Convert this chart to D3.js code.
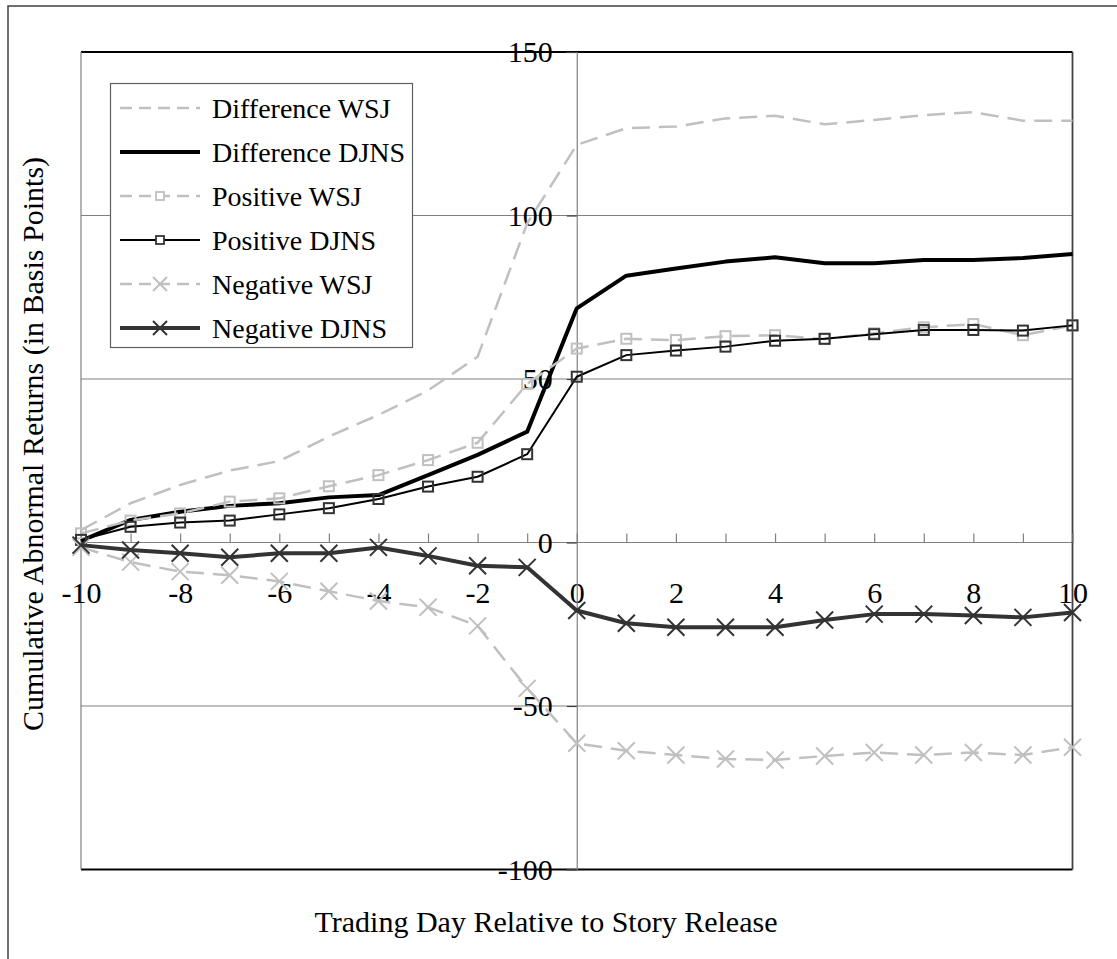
<!DOCTYPE html>
<html>
<head>
<meta charset="utf-8">
<script src="https://cdn.jsdelivr.net/npm/d3@7"></script>
<style>
	body { margin: 0; background: #fff; }
	svg text { font-family: "Liberation Serif", "Times New Roman", serif; fill: #000; }
</style>
</head>
<body>
<div id="chart"></div>
<script>
// trading days relative to story release
const days = [-10, -9, -8, -7, -6, -5, -4, -3, -2, -1, 0, 1, 2, 3, 4, 5, 6, 7, 8, 9, 10];
const xTickLabels = [-10, -8, -6, -4, -2, 0, 2, 4, 6, 8, 10];
const yTickLabels = [-100, -50, 0, 50, 100, 150];

// cumulative abnormal returns, basis points
const diffWSJ = [3.8, 12, 17.6, 22, 24.9, 32.4, 39, 46.5, 56.8, 97.6, 121.6, 126.7, 127.2, 129.7, 130.5, 127.9, 129.2, 130.7, 131.6, 129, 129];
const diffDJNS = [0.5, 6.9, 9.4, 11.2, 12, 13.8, 14.5, 20.6, 26.8, 33.9, 71.6, 81.6, 83.8, 85.9, 87.2, 85.4, 85.4, 86.4, 86.4, 87, 88.2];
const posWSJ = [2.8, 6.7, 8.9, 12.5, 13.5, 17.2, 20.6, 25.2, 30.5, 48.5, 59.3, 62.3, 61.9, 63.1, 63.4, 62.2, 64, 65.8, 66.8, 63.4, 66.4];
const posDJNS = [0.8, 4.8, 6.1, 6.7, 8.6, 10.5, 13.3, 17.1, 20.1, 27, 50.7, 57.3, 58.7, 59.9, 61.7, 62.3, 63.7, 65, 65, 64.8, 66.4];
const negWSJ = [-1.5, -6, -8.9, -10, -11.9, -14.9, -17.9, -19.8, -25.5, -44.6, -61.4, -63.7, -65, -66.2, -66.5, -65.3, -64.2, -65, -64.2, -65, -62.6];
const negDJNS = [-0.8, -2.3, -3.3, -4.5, -3.3, -3.3, -1.5, -4.1, -7.1, -7.6, -20.8, -24.7, -25.9, -25.9, -25.9, -23.7, -21.9, -21.9, -22.3, -22.9, -21.4];

const seriesNames = ["Difference WSJ", "Difference DJNS", "Positive WSJ", "Positive DJNS", "Negative WSJ", "Negative DJNS"];
const seriesValues = [diffWSJ, diffDJNS, posWSJ, posDJNS, negWSJ, negDJNS];

// line looks per series
const styles = [
	{ color: "#c0c0c0", width: 2.5, dash: "18,9", marker: null },
	{ color: "#000000", width: 4, dash: null, marker: null },
	{ color: "#c0c0c0", width: 2.5, dash: "18,9", marker: "square" },
	{ color: "#000000", width: 2, dash: null, marker: "square" },
	{ color: "#c0c0c0", width: 2.5, dash: "18,9", marker: "x" },
	{ color: "#333333", width: 4, dash: null, marker: "x" }
];

const width = 1117, height = 959;
const plot = { left: 81, right: 1072.5, top: 52, bottom: 869.5 };

const svg = d3.select("#chart").append("svg")
	.attr("width", width)
	.attr("height", height);

// outer chart frame
svg.append("rect")
	.attr("x", 8).attr("y", 6)
	.attr("width", width + 20).attr("height", height + 20)
	.attr("fill", "#fff")
	.attr("stroke", "#404040")
	.attr("stroke-width", 1.5);

const x = d3.scaleLinear().domain([-10, 10]).range([plot.left, plot.right]);
const y = d3.scaleLinear().domain([-100, 150]).range([plot.bottom, plot.top]);

// plain hyphen minus like the original
const fmt = d => String(d);

// horizontal gridlines
svg.append("g")
	.selectAll("line")
	.data(yTickLabels)
	.join("line")
	.attr("x1", plot.left).attr("x2", plot.right)
	.attr("y1", d => y(d)).attr("y2", d => y(d))
	.attr("stroke", d => (d == 150 || d == -100) ? "#000" : "#808080")
	.attr("stroke-width", d => (d == 150 || d == -100) ? 2 : 1.2);

// plot side borders
svg.append("line")
	.attr("x1", plot.left).attr("x2", plot.left)
	.attr("y1", plot.top).attr("y2", plot.bottom)
	.attr("stroke", "#808080").attr("stroke-width", 1.2);
svg.append("line")
	.attr("x1", plot.right).attr("x2", plot.right)
	.attr("y1", plot.top).attr("y2", plot.bottom)
	.attr("stroke", "#404040").attr("stroke-width", 1.8);

// x axis: small ticks on every day, labels on even days
const xAxisTicks = svg.append("g")
	.attr("transform", `translate(0,${y(0)})`)
	.call(d3.axisTop(x).tickValues(days).tickSize(9).tickFormat(""));
xAxisTicks.select(".domain").remove();
xAxisTicks.selectAll("line").attr("stroke", "#808080").attr("stroke-width", 1.2);

const xAxis = svg.append("g")
	.attr("transform", `translate(0,${y(0)})`)
	.call(d3.axisBottom(x).tickValues(xTickLabels).tickFormat(fmt).tickSize(0).tickPadding(60));
xAxis.select(".domain").remove();
xAxis.selectAll("text")
	.attr("font-size", "30px")
	.attr("dy", 0)
	.attr("font-family", "Liberation Serif");

// y axis through day 0
const yAxis = svg.append("g")
	.attr("transform", `translate(${x(0)},0)`)
	.call(d3.axisLeft(y).tickValues(yTickLabels).tickFormat(fmt).tickSize(10).tickPadding(14));
yAxis.select(".domain").attr("stroke", "#808080").attr("stroke-width", 1.2);
yAxis.selectAll("line").attr("stroke", "#404040").attr("stroke-width", 1.2);
yAxis.selectAll("text")
	.attr("font-size", "30px")
	.attr("font-family", "Liberation Serif");

// series
const line = d3.line()
	.x((d, i) => x(days[i]))
	.y(d => y(d));

function drawMarker(g, kind, color, px, py, size) {
	if (kind == "square") {
		g.append("rect")
			.attr("x", px - size / 2).attr("y", py - size / 2)
			.attr("width", size).attr("height", size)
			.attr("fill", "none")
			.attr("stroke", color)
			.attr("stroke-width", 2);
	} else if (kind == "x") {
		const h = size / 2;
		g.append("path")
			.attr("d", `M${px - h},${py - h}L${px + h},${py + h}M${px - h},${py + h}L${px + h},${py - h}`)
			.attr("fill", "none")
			.attr("stroke", color)
			.attr("stroke-width", 2);
	}
}

const markerColors = ["#c0c0c0", "#000", "#c0c0c0", "#333333", "#c0c0c0", "#333333"];

seriesValues.forEach((vals, s) => {
	const st = styles[s];
	const g = svg.append("g").attr("class", "series");
	g.append("path")
		.datum(vals)
		.attr("d", line)
		.attr("fill", "none")
		.attr("stroke", st.color)
		.attr("stroke-width", st.width)
		.attr("stroke-dasharray", st.dash)
		.attr("stroke-linejoin", "round");
	if (st.marker) {
		vals.forEach((v, i) => drawMarker(g, st.marker, markerColors[s], x(days[i]), y(v), st.marker == "square" ? 10 : 17));
	}
});

// legend
const legend = svg.append("g");
legend.append("rect")
	.attr("x", 110.5).attr("y", 83.5)
	.attr("width", 302).attr("height", 264)
	.attr("fill", "#fff")
	.attr("stroke", "#606060")
	.attr("stroke-width", 1.2);

seriesNames.forEach((name, i) => {
	const st = styles[i];
	const ly = 108 + i * 44;
	legend.append("line")
		.attr("x1", 120).attr("x2", 200)
		.attr("y1", ly).attr("y2", ly)
		.attr("stroke", st.color)
		.attr("stroke-width", st.width)
		.attr("stroke-dasharray", st.dash ? "12,7" : null);
	if (st.marker) {
		if (st.marker == "square") {
			legend.append("rect")
				.attr("x", 160 - 4).attr("y", ly - 4)
				.attr("width", 8).attr("height", 8)
				.attr("fill", "#fff")
				.attr("stroke", markerColors[i])
				.attr("stroke-width", 1.8);
		} else {
			drawMarker(legend, "x", markerColors[i], 160, ly, 14);
		}
	}
	legend.append("text")
		.attr("x", 212).attr("y", ly)
		.attr("dy", "0.35em")
		.attr("font-size", "28px")
		.text(name);
});

// axis titles
svg.append("text")
	.attr("x", 546).attr("y", 932)
	.attr("text-anchor", "middle")
	.attr("font-size", "30px")
	.text("Trading Day Relative to Story Release");

svg.append("text")
	.attr("transform", `translate(43,444) rotate(-90)`)
	.attr("text-anchor", "middle")
	.attr("font-size", "30px")
	.text("Cumulative Abnormal Returns (in Basis Points)");
</script>
</body>
</html>
